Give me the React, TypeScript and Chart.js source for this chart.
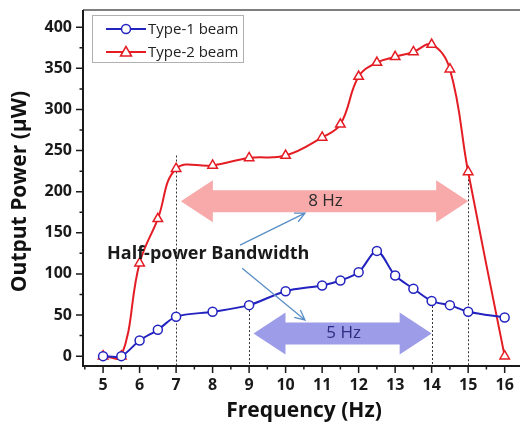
import React, { useEffect, useRef } from 'react';
import { Chart, registerables } from 'chart.js';

Chart.register(...registerables);

// ---- data ----
const freq = [5, 5.5, 6, 6.5, 7, 8, 9, 10, 11, 11.5, 12, 12.5, 13, 13.5, 14, 14.5, 15, 16];
const type1 = [0, 0, 19, 32, 48, 54, 62, 79, 86, 92, 102, 128, 98, 82, 67, 62, 54, 47];
const type2 = [0, 0, 113, 167, 228, 232, 241, 244, 266, 282, 340, 357, 364, 370, 379, 349, 224, 0];
const xTickValues = [5, 6, 7, 8, 9, 10, 11, 12, 13, 14, 15, 16];
const yTickValues = [0, 50, 100, 150, 200, 250, 300, 350, 400];
const seriesNames = ['Type-1 beam', 'Type-2 beam'];

// ---- annotations (data units) ----
const bandArrows = [
  { from: 7.13, to: 15.0, y: 188.5, label: '8 Hz' },
  { from: 9.12, to: 14.0, y: 27.6, label: '5 Hz' },
];
const cutoffLines = [
  { x: 7, top: 244 },
  { x: 9, top: 56 },
  { x: 14, top: 61 },
  { x: 15, top: 220 },
];
const noteText = 'Half-power Bandwidth';
const notePos = { x: 7.88, y: 124 };
const pointerArrows = [
  { x1: 8.75, y1: 135, x2: 10.53, y2: 174 },
  { x1: 8.81, y1: 107, x2: 10.53, y2: 44 },
];

const BLUE = '#2323bf';
const RED = '#e41d24';
const FONT = '"Open Sans", "DejaVu Sans", sans-serif';

function blockArrow(ctx: CanvasRenderingContext2D, x1: number, x2: number, cy: number, color: string) {
  const bh = 11, hh = 21, hl = 32;
  ctx.save();
  ctx.fillStyle = color;
  ctx.beginPath();
  ctx.moveTo(x1, cy);
  ctx.lineTo(x1 + hl, cy - hh);
  ctx.lineTo(x1 + hl, cy - bh);
  ctx.lineTo(x2 - hl, cy - bh);
  ctx.lineTo(x2 - hl, cy - hh);
  ctx.lineTo(x2, cy);
  ctx.lineTo(x2 - hl, cy + hh);
  ctx.lineTo(x2 - hl, cy + bh);
  ctx.lineTo(x1 + hl, cy + bh);
  ctx.lineTo(x1 + hl, cy + hh);
  ctx.closePath();
  ctx.fill();
  ctx.restore();
}

function thinArrow(ctx: CanvasRenderingContext2D, x1: number, y1: number, x2: number, y2: number) {
  const ang = Math.atan2(y2 - y1, x2 - x1);
  const hl = 11;
  ctx.save();
  ctx.strokeStyle = '#5a8ec6';
  ctx.lineWidth = 1.3;
  ctx.beginPath();
  ctx.moveTo(x1, y1);
  ctx.lineTo(x2, y2);
  ctx.moveTo(x2 - hl * Math.cos(ang - 0.45), y2 - hl * Math.sin(ang - 0.45));
  ctx.lineTo(x2, y2);
  ctx.lineTo(x2 - hl * Math.cos(ang + 0.45), y2 - hl * Math.sin(ang + 0.45));
  ctx.stroke();
  ctx.restore();
}

const decorPlugin = {
  id: 'decor',
  beforeDatasetsDraw(chart: any) {
    const ctx = chart.ctx as CanvasRenderingContext2D;
    const xs = chart.scales.x;
    const ys = chart.scales.y;
    const area = chart.chartArea;
    const colors = ['#f8a9a9', '#9c9ce8'];
    bandArrows.forEach((a, i) => {
      blockArrow(ctx, xs.getPixelForValue(a.from), xs.getPixelForValue(a.to), ys.getPixelForValue(a.y), colors[i]);
    });
    ctx.save();
    ctx.strokeStyle = '#333';
    ctx.lineWidth = 1;
    ctx.setLineDash([2, 2]);
    cutoffLines.forEach((l) => {
      const px = Math.round(xs.getPixelForValue(l.x)) + 0.5;
      ctx.beginPath();
      ctx.moveTo(px, ys.getPixelForValue(l.top));
      ctx.lineTo(px, area.bottom);
      ctx.stroke();
    });
    ctx.restore();
  },
  afterDatasetsDraw(chart: any) {
    const ctx = chart.ctx as CanvasRenderingContext2D;
    const xs = chart.scales.x;
    const ys = chart.scales.y;
    const area = chart.chartArea;

    // band labels
    const labelColors = ['#2b2b2b', '#2c2c80'];
    ctx.save();
    ctx.textAlign = 'center';
    ctx.textBaseline = 'middle';
    ctx.font = `17px ${FONT}`;
    bandArrows.forEach((a, i) => {
      ctx.fillStyle = labelColors[i];
      ctx.fillText(a.label, (xs.getPixelForValue(a.from) + xs.getPixelForValue(a.to)) / 2 + 1, ys.getPixelForValue(a.y));
    });
    ctx.font = `bold 18px ${FONT}`;
    ctx.fillStyle = '#1a1a1a';
    ctx.fillText(noteText, xs.getPixelForValue(notePos.x), ys.getPixelForValue(notePos.y));
    ctx.restore();

    pointerArrows.forEach((p) => {
      thinArrow(ctx, xs.getPixelForValue(p.x1), ys.getPixelForValue(p.y1), xs.getPixelForValue(p.x2), ys.getPixelForValue(p.y2));
    });

    // frame
    ctx.save();
    ctx.strokeStyle = '#555';
    ctx.lineWidth = 1.5;
    ctx.beginPath();
    ctx.moveTo(area.left, area.top);
    ctx.lineTo(area.right, area.top);
    ctx.stroke();
    ctx.strokeStyle = '#1a1a1a';
    ctx.lineWidth = 2;
    ctx.beginPath();
    ctx.moveTo(area.left, area.top);
    ctx.lineTo(area.left, area.bottom);
    ctx.lineTo(area.right, area.bottom);
    ctx.stroke();
    // ticks
    ctx.lineWidth = 1.5;
    ctx.beginPath();
    for (let v = 0; v <= 400; v += 25) {
      const py = ys.getPixelForValue(v);
      const len = v % 50 === 0 ? 7 : 3.5;
      ctx.moveTo(area.left, py);
      ctx.lineTo(area.left - len, py);
    }
    for (let v = 4.5; v <= 16.4; v += 0.5) {
      const px = xs.getPixelForValue(v);
      const len = v % 1 === 0 ? 7 : 3.5;
      ctx.moveTo(px, area.bottom);
      ctx.lineTo(px, area.bottom + len);
    }
    ctx.stroke();
    ctx.restore();

    // legend
    ctx.save();
    ctx.strokeStyle = '#b0b0b0';
    ctx.lineWidth = 1;
    ctx.strokeRect(92.5, 15.5, 151, 47);
    const rows = [
      { y: 29, color: BLUE, style: 'circle' },
      { y: 52, color: RED, style: 'triangle' },
    ];
    rows.forEach((r, i) => {
      ctx.strokeStyle = r.color;
      ctx.lineWidth = 2;
      ctx.beginPath();
      ctx.moveTo(106, r.y);
      ctx.lineTo(146, r.y);
      ctx.stroke();
      ctx.fillStyle = '#fff';
      ctx.lineWidth = 1.5;
      ctx.beginPath();
      if (r.style === 'circle') {
        ctx.arc(126, r.y, 4.5, 0, Math.PI * 2);
      } else {
        ctx.moveTo(126, r.y - 5.5);
        ctx.lineTo(120.5, r.y + 4);
        ctx.lineTo(131.5, r.y + 4);
        ctx.closePath();
      }
      ctx.fill();
      ctx.stroke();
      ctx.fillStyle = '#222';
      ctx.font = `15px ${FONT}`;
      ctx.textAlign = 'left';
      ctx.textBaseline = 'middle';
      ctx.fillText(seriesNames[i], 148, r.y + 1);
    });
    ctx.restore();

    // axis titles
    ctx.save();
    ctx.fillStyle = '#111';
    ctx.font = `bold 21px ${FONT}`;
    ctx.textAlign = 'center';
    ctx.textBaseline = 'middle';
    ctx.fillText('Frequency (Hz)', 304, 411);
    ctx.translate(20, 191.5);
    ctx.rotate(-Math.PI / 2);
    ctx.fillText('Output Power (\u03bcW)', 0, 0);
    ctx.restore();
  },
};

export default function App() {
  const ref = useRef<HTMLCanvasElement | null>(null);
  useEffect(() => {
    if (!ref.current) return;
    const chart = new Chart(ref.current, {
      type: 'line',
      data: {
        datasets: [
          {
            label: seriesNames[0],
            data: freq.map((f, i) => ({ x: f, y: type1[i] })),
            borderColor: BLUE,
            backgroundColor: '#fff',
            borderWidth: 2,
            pointStyle: 'circle',
            pointRadius: 4.5,
            pointBorderWidth: 1.5,
            pointBackgroundColor: '#fff',
            pointBorderColor: BLUE,
            tension: 0.3,
          },
          {
            label: seriesNames[1],
            data: freq.map((f, i) => ({ x: f, y: type2[i] })),
            borderColor: RED,
            backgroundColor: '#fff',
            borderWidth: 2,
            pointStyle: 'triangle',
            pointRadius: 5.5,
            pointBorderWidth: 1.5,
            pointBackgroundColor: '#fff',
            pointBorderColor: RED,
            tension: 0.4,
          },
        ],
      },
      options: {
        responsive: false,
        animation: false,
        devicePixelRatio: 1,
        layout: { autoPadding: false, padding: { top: 10, right: 0, left: 0, bottom: 0 } },
        plugins: { legend: { display: false }, tooltip: { enabled: false } },
        scales: {
          x: {
            type: 'linear',
            min: 4.45,
            max: 16.42,
            afterBuildTicks: (axis: any) => {
              axis.ticks = xTickValues.map((v) => ({ value: v }));
            },
            afterFit: (s: any) => {
              s.height = 63;
              s.paddingLeft = 0;
              s.paddingRight = 0;
            },
            grid: { display: false, drawTicks: false },
            border: { display: false },
            ticks: {
              autoSkip: false,
              maxRotation: 0,
              padding: 10,
              color: '#1a1a1a',
              font: { family: FONT, size: 16, weight: 'bold' },
              callback: (v: any) => String(v),
            },
          },
          y: {
            type: 'linear',
            min: -12,
            max: 421,
            afterBuildTicks: (axis: any) => {
              axis.ticks = yTickValues.map((v) => ({ value: v }));
            },
            afterFit: (s: any) => {
              s.width = 83;
              s.paddingTop = 0;
              s.paddingBottom = 0;
            },
            grid: { display: false, drawTicks: false },
            border: { display: false },
            ticks: {
              padding: 11,
              color: '#1a1a1a',
              font: { family: FONT, size: 16, weight: 'bold' },
              callback: (v: any) => String(v),
            },
          },
        },
      },
      plugins: [decorPlugin],
    } as any);
    return () => chart.destroy();
  }, []);
  return (
    <div style={{ position: 'fixed', left: 0, top: 0, width: 520, height: 429, background: '#fff' }}>
      <canvas ref={ref} width={520} height={429} style={{ display: 'block' }} />
    </div>
  );
}
